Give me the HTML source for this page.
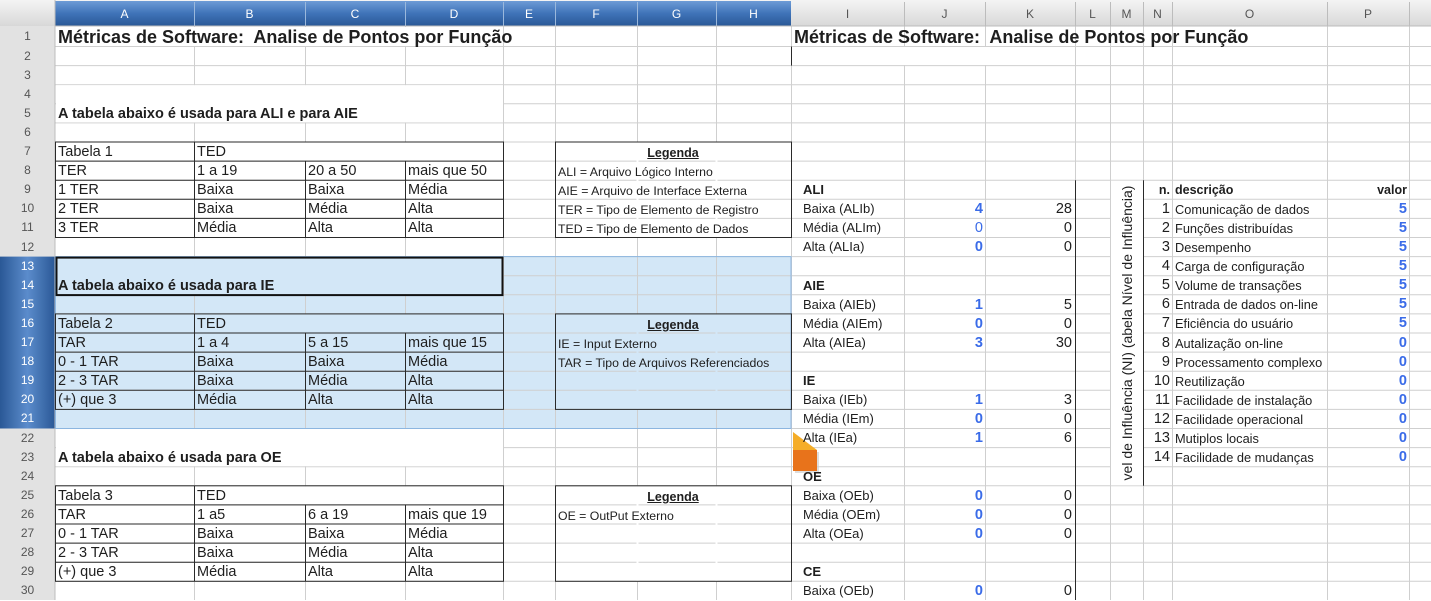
<!DOCTYPE html>
<html><head><meta charset="utf-8">
<style>
body{margin:0;width:1431px;height:600px;overflow:hidden;background:#fff;font-family:"Liberation Sans",sans-serif;position:relative;color:#1e1e1e}
svg{position:absolute;left:0;top:0}
.t{position:absolute;white-space:nowrap;font-size:14.5px;height:19px;line-height:20px}
.b{font-weight:bold}
.s{font-size:12.3px}
.o{font-size:12.8px}
.r{text-align:right}
.n{color:#3a6be8;font-weight:bold;text-align:right}
.h{position:absolute;font-size:12px;color:#555;text-align:center;height:26px;line-height:28px;top:0}
.hb{color:#fff}
.rh{position:absolute;left:0;width:55px;text-align:center;font-size:12px;color:#555}
.rb{color:#fff}
</style></head><body>
<svg width="1431" height="600">
<defs>
<linearGradient id="g1" x1="0" y1="0" x2="0" y2="1"><stop offset="0" stop-color="#f4f4f4"/><stop offset="1" stop-color="#d8d8d8"/></linearGradient>
<linearGradient id="g2" x1="0" y1="0" x2="0" y2="1"><stop offset="0" stop-color="#6d9bd6"/><stop offset="0.5" stop-color="#3f73b8"/><stop offset="1" stop-color="#2a5896"/></linearGradient>
<linearGradient id="g3" x1="0" y1="0" x2="1" y2="0"><stop offset="0" stop-color="#2a5896"/><stop offset="0.5" stop-color="#5b8ccc"/><stop offset="1" stop-color="#2a5896"/></linearGradient>
</defs>
<rect x="0" y="0" width="1431" height="26" fill="url(#g1)"/>
<rect x="55" y="1" width="736" height="25" fill="url(#g2)"/>
<rect x="0" y="26" width="55" height="574" fill="#e2e2e2"/>
<rect x="0" y="256.6" width="55" height="171.9" fill="url(#g3)"/>
<rect x="55" y="256.6" width="736" height="171.9" fill="#d3e7f7"/>
<g stroke="#cfcfcf" stroke-width="1">
<line x1="55" y1="46.5" x2="1431" y2="46.5"/><line x1="55" y1="65.6" x2="1431" y2="65.6"/><line x1="55" y1="84.7" x2="1431" y2="84.7"/><line x1="55" y1="103.8" x2="1431" y2="103.8"/><line x1="55" y1="122.9" x2="1431" y2="122.9"/><line x1="55" y1="142" x2="1431" y2="142"/><line x1="55" y1="161.1" x2="1431" y2="161.1"/><line x1="55" y1="180.2" x2="1431" y2="180.2"/><line x1="55" y1="199.3" x2="1431" y2="199.3"/><line x1="55" y1="218.4" x2="1431" y2="218.4"/><line x1="55" y1="237.5" x2="1431" y2="237.5"/><line x1="55" y1="256.6" x2="1431" y2="256.6"/><line x1="55" y1="275.7" x2="1431" y2="275.7"/><line x1="55" y1="294.8" x2="1431" y2="294.8"/><line x1="55" y1="313.9" x2="1431" y2="313.9"/><line x1="55" y1="333" x2="1431" y2="333"/><line x1="55" y1="352.1" x2="1431" y2="352.1"/><line x1="55" y1="371.2" x2="1431" y2="371.2"/><line x1="55" y1="390.3" x2="1431" y2="390.3"/><line x1="55" y1="409.4" x2="1431" y2="409.4"/><line x1="55" y1="428.5" x2="1431" y2="428.5"/><line x1="55" y1="447.6" x2="1431" y2="447.6"/><line x1="55" y1="466.7" x2="1431" y2="466.7"/><line x1="55" y1="485.8" x2="1431" y2="485.8"/><line x1="55" y1="504.9" x2="1431" y2="504.9"/><line x1="55" y1="524" x2="1431" y2="524"/><line x1="55" y1="543.1" x2="1431" y2="543.1"/><line x1="55" y1="562.2" x2="1431" y2="562.2"/><line x1="55" y1="581.3" x2="1431" y2="581.3"/>
<line x1="194.5" y1="26" x2="194.5" y2="600"/><line x1="305.5" y1="26" x2="305.5" y2="600"/><line x1="405.5" y1="26" x2="405.5" y2="600"/><line x1="503.5" y1="26" x2="503.5" y2="600"/><line x1="555.5" y1="26" x2="555.5" y2="600"/><line x1="637.5" y1="26" x2="637.5" y2="600"/><line x1="716.5" y1="26" x2="716.5" y2="600"/><line x1="791.5" y1="26" x2="791.5" y2="600"/><line x1="904.5" y1="26" x2="904.5" y2="600"/><line x1="985.5" y1="26" x2="985.5" y2="600"/><line x1="1075.5" y1="26" x2="1075.5" y2="600"/><line x1="1110.5" y1="26" x2="1110.5" y2="600"/><line x1="1143.5" y1="26" x2="1143.5" y2="600"/><line x1="1172.5" y1="26" x2="1172.5" y2="600"/><line x1="1327.5" y1="26" x2="1327.5" y2="600"/><line x1="1409.5" y1="26" x2="1409.5" y2="600"/>
</g>
<g stroke="#9ab8dc" stroke-width="1">
<line x1="194.5" y1="2" x2="194.5" y2="26"/><line x1="305.5" y1="2" x2="305.5" y2="26"/><line x1="405.5" y1="2" x2="405.5" y2="26"/><line x1="503.5" y1="2" x2="503.5" y2="26"/><line x1="555.5" y1="2" x2="555.5" y2="26"/><line x1="637.5" y1="2" x2="637.5" y2="26"/><line x1="716.5" y1="2" x2="716.5" y2="26"/>
</g>
<g stroke="#bcbcbc" stroke-width="1">
<line x1="55" y1="26" x2="1431" y2="26"/><line x1="55" y1="0" x2="55" y2="600"/>
<line x1="904.5" y1="2" x2="904.5" y2="26"/><line x1="985.5" y1="2" x2="985.5" y2="26"/><line x1="1075.5" y1="2" x2="1075.5" y2="26"/><line x1="1110.5" y1="2" x2="1110.5" y2="26"/><line x1="1143.5" y1="2" x2="1143.5" y2="26"/><line x1="1172.5" y1="2" x2="1172.5" y2="26"/><line x1="1327.5" y1="2" x2="1327.5" y2="26"/><line x1="1409.5" y1="2" x2="1409.5" y2="26"/>
</g>
<g fill="#fff">
<rect x="56" y="27" width="447" height="19"/>
<rect x="792" y="47" width="283" height="18"/>
<rect x="56" y="85.2" width="447" height="37.2"/>
<rect x="56" y="429" width="447" height="37.2"/>
<rect x="195" y="142.5" width="308" height="18"/>
<rect x="195" y="486.3" width="308" height="18"/>
<rect x="636.5" y="142.5" width="2" height="95"/><rect x="715.5" y="142.5" width="2" height="95"/>
<rect x="636.5" y="486.3" width="2" height="95"/><rect x="715.5" y="486.3" width="2" height="95"/>
<rect x="1111" y="180.7" width="32" height="304.6"/>
</g>
<g fill="#d3e7f7">
<rect x="56" y="257.1" width="447" height="37.2"/>
<rect x="195" y="314.4" width="308" height="18"/>
<rect x="636.5" y="314.4" width="2" height="95"/><rect x="715.5" y="314.4" width="2" height="95"/>
</g>
<rect x="55.5" y="256.6" width="735.5" height="171.9" fill="none" stroke="#8cb6e0" stroke-width="1"/>
<g stroke="#2a2a2a" stroke-width="1" fill="none">
<rect x="55.5" y="142" width="448" height="95.5"/>
<line x1="55" y1="161.1" x2="504" y2="161.1"/><line x1="55" y1="180.2" x2="504" y2="180.2"/><line x1="55" y1="199.3" x2="504" y2="199.3"/><line x1="55" y1="218.4" x2="504" y2="218.4"/>
<line x1="194.5" y1="142" x2="194.5" y2="237.5"/><line x1="305.5" y1="161.1" x2="305.5" y2="237.5"/><line x1="405.5" y1="161.1" x2="405.5" y2="237.5"/>
<rect x="55.5" y="313.9" width="448" height="95.5"/>
<line x1="55" y1="333" x2="504" y2="333"/><line x1="55" y1="352.1" x2="504" y2="352.1"/><line x1="55" y1="371.2" x2="504" y2="371.2"/><line x1="55" y1="390.3" x2="504" y2="390.3"/>
<line x1="194.5" y1="313.9" x2="194.5" y2="409.4"/><line x1="305.5" y1="333" x2="305.5" y2="409.4"/><line x1="405.5" y1="333" x2="405.5" y2="409.4"/>
<rect x="55.5" y="485.8" width="448" height="95.5"/>
<line x1="55" y1="504.9" x2="504" y2="504.9"/><line x1="55" y1="524" x2="504" y2="524"/><line x1="55" y1="543.1" x2="504" y2="543.1"/><line x1="55" y1="562.2" x2="504" y2="562.2"/>
<line x1="194.5" y1="485.8" x2="194.5" y2="581.3"/><line x1="305.5" y1="504.9" x2="305.5" y2="581.3"/><line x1="405.5" y1="504.9" x2="405.5" y2="581.3"/>
<rect x="555.5" y="142" width="236" height="95.5"/>
<rect x="555.5" y="313.9" width="236" height="95.5"/>
<rect x="555.5" y="485.8" width="236" height="95.5"/>
<line x1="791.5" y1="46.5" x2="791.5" y2="65.6"/>
<line x1="1075.5" y1="180.2" x2="1075.5" y2="600"/>
<line x1="1143.5" y1="180.2" x2="1143.5" y2="485.8"/>
</g>
<rect x="56.5" y="257.6" width="446" height="37.5" fill="none" stroke="#111" stroke-width="2"/>
<rect x="795" y="452" width="24" height="21" fill="#c8c8c8" opacity="0.6"/>
<polygon points="793,432 817,450 793,450" fill="#f5ad28"/>
<rect x="793" y="450" width="24" height="21" fill="#e8731b"/>
</svg>

<div class="h hb" style="left:55px;width:139px">A</div>
<div class="h hb" style="left:194px;width:111px">B</div>
<div class="h hb" style="left:305px;width:100px">C</div>
<div class="h hb" style="left:405px;width:98px">D</div>
<div class="h hb" style="left:503px;width:52px">E</div>
<div class="h hb" style="left:555px;width:82px">F</div>
<div class="h hb" style="left:637px;width:79px">G</div>
<div class="h hb" style="left:716px;width:75px">H</div>
<div class="h" style="left:791px;width:113px">I</div>
<div class="h" style="left:904px;width:81px">J</div>
<div class="h" style="left:985px;width:90px">K</div>
<div class="h" style="left:1075px;width:35px">L</div>
<div class="h" style="left:1110px;width:33px">M</div>
<div class="h" style="left:1143px;width:29px">N</div>
<div class="h" style="left:1172px;width:155px">O</div>
<div class="h" style="left:1327px;width:82px">P</div>

<div class="rh" style="top:26px;height:20px;line-height:20px">1</div>
<div class="rh" style="top:46.5px;height:19px;line-height:19px">2</div>
<div class="rh" style="top:65.6px;height:19px;line-height:19px">3</div>
<div class="rh" style="top:84.7px;height:19px;line-height:19px">4</div>
<div class="rh" style="top:103.8px;height:19px;line-height:19px">5</div>
<div class="rh" style="top:122.9px;height:19px;line-height:19px">6</div>
<div class="rh" style="top:142px;height:19px;line-height:19px">7</div>
<div class="rh" style="top:161.1px;height:19px;line-height:19px">8</div>
<div class="rh" style="top:180.2px;height:19px;line-height:19px">9</div>
<div class="rh" style="top:199.3px;height:19px;line-height:19px">10</div>
<div class="rh" style="top:218.4px;height:19px;line-height:19px">11</div>
<div class="rh" style="top:237.5px;height:19px;line-height:19px">12</div>
<div class="rh rb" style="top:256.6px;height:19px;line-height:19px">13</div>
<div class="rh rb" style="top:275.7px;height:19px;line-height:19px">14</div>
<div class="rh rb" style="top:294.8px;height:19px;line-height:19px">15</div>
<div class="rh rb" style="top:313.9px;height:19px;line-height:19px">16</div>
<div class="rh rb" style="top:333px;height:19px;line-height:19px">17</div>
<div class="rh rb" style="top:352.1px;height:19px;line-height:19px">18</div>
<div class="rh rb" style="top:371.2px;height:19px;line-height:19px">19</div>
<div class="rh rb" style="top:390.3px;height:19px;line-height:19px">20</div>
<div class="rh rb" style="top:409.4px;height:19px;line-height:19px">21</div>
<div class="rh" style="top:428.5px;height:19px;line-height:19px">22</div>
<div class="rh" style="top:447.6px;height:19px;line-height:19px">23</div>
<div class="rh" style="top:466.7px;height:19px;line-height:19px">24</div>
<div class="rh" style="top:485.8px;height:19px;line-height:19px">25</div>
<div class="rh" style="top:504.9px;height:19px;line-height:19px">26</div>
<div class="rh" style="top:524px;height:19px;line-height:19px">27</div>
<div class="rh" style="top:543.1px;height:19px;line-height:19px">28</div>
<div class="rh" style="top:562.2px;height:19px;line-height:19px">29</div>
<div class="rh" style="top:581.3px;height:19px;line-height:19px">30</div>

<div class="t b" style="left:58px;top:26px;height:20px;line-height:22px;font-size:18px">Métricas de Software:&nbsp; Analise de Pontos por Função</div>
<div class="t b" style="left:794px;top:26px;height:20px;line-height:22px;font-size:18px">Métricas de Software:&nbsp; Analise de Pontos por Função</div>
<div class="t b" style="left:58px;top:104px;font-size:14.5px">A tabela abaixo é usada para ALI e para AIE</div>
<div class="t b" style="left:58px;top:276px;font-size:14.5px">A tabela abaixo é usada para IE</div>
<div class="t b" style="left:58px;top:448px;font-size:14.5px">A tabela abaixo é usada para OE</div>

<div class="t" style="left:58px;top:142px">Tabela 1</div><div class="t" style="left:197px;top:142px">TED</div>
<div class="t" style="left:58px;top:161px">TER</div><div class="t" style="left:197px;top:161px">1 a 19</div><div class="t" style="left:308px;top:161px">20 a 50</div><div class="t" style="left:408px;top:161px">mais que 50</div>
<div class="t" style="left:58px;top:180px">1 TER</div><div class="t" style="left:197px;top:180px">Baixa</div><div class="t" style="left:308px;top:180px">Baixa</div><div class="t" style="left:408px;top:180px">Média</div>
<div class="t" style="left:58px;top:199px">2 TER</div><div class="t" style="left:197px;top:199px">Baixa</div><div class="t" style="left:308px;top:199px">Média</div><div class="t" style="left:408px;top:199px">Alta</div>
<div class="t" style="left:58px;top:218px">3 TER</div><div class="t" style="left:197px;top:218px">Média</div><div class="t" style="left:308px;top:218px">Alta</div><div class="t" style="left:408px;top:218px">Alta</div>

<div class="t" style="left:58px;top:314px">Tabela 2</div><div class="t" style="left:197px;top:314px">TED</div>
<div class="t" style="left:58px;top:333px">TAR</div><div class="t" style="left:197px;top:333px">1 a 4</div><div class="t" style="left:308px;top:333px">5 a 15</div><div class="t" style="left:408px;top:333px">mais que 15</div>
<div class="t" style="left:58px;top:352px">0 - 1 TAR</div><div class="t" style="left:197px;top:352px">Baixa</div><div class="t" style="left:308px;top:352px">Baixa</div><div class="t" style="left:408px;top:352px">Média</div>
<div class="t" style="left:58px;top:371px">2 - 3 TAR</div><div class="t" style="left:197px;top:371px">Baixa</div><div class="t" style="left:308px;top:371px">Média</div><div class="t" style="left:408px;top:371px">Alta</div>
<div class="t" style="left:58px;top:390px">(+) que 3</div><div class="t" style="left:197px;top:390px">Média</div><div class="t" style="left:308px;top:390px">Alta</div><div class="t" style="left:408px;top:390px">Alta</div>

<div class="t" style="left:58px;top:486px">Tabela 3</div><div class="t" style="left:197px;top:486px">TED</div>
<div class="t" style="left:58px;top:505px">TAR</div><div class="t" style="left:197px;top:505px">1 a5</div><div class="t" style="left:308px;top:505px">6 a 19</div><div class="t" style="left:408px;top:505px">mais que 19</div>
<div class="t" style="left:58px;top:524px">0 - 1 TAR</div><div class="t" style="left:197px;top:524px">Baixa</div><div class="t" style="left:308px;top:524px">Baixa</div><div class="t" style="left:408px;top:524px">Média</div>
<div class="t" style="left:58px;top:543px">2 - 3 TAR</div><div class="t" style="left:197px;top:543px">Baixa</div><div class="t" style="left:308px;top:543px">Média</div><div class="t" style="left:408px;top:543px">Alta</div>
<div class="t" style="left:58px;top:562px">(+) que 3</div><div class="t" style="left:197px;top:562px">Média</div><div class="t" style="left:308px;top:562px">Alta</div><div class="t" style="left:408px;top:562px">Alta</div>

<div class="t b" style="left:555px;width:236px;text-align:center;top:143px;font-size:12.5px;text-decoration:underline">Legenda</div>
<div class="t s" style="left:558px;top:162px">ALI = Arquivo Lógico Interno</div>
<div class="t s" style="left:558px;top:181px">AIE = Arquivo de Interface Externa</div>
<div class="t s" style="left:558px;top:200px">TER = Tipo de Elemento de Registro</div>
<div class="t s" style="left:558px;top:219px">TED = Tipo de Elemento de Dados</div>
<div class="t b" style="left:555px;width:236px;text-align:center;top:315px;font-size:12.5px;text-decoration:underline">Legenda</div>
<div class="t s" style="left:558px;top:334px">IE = Input Externo</div>
<div class="t s" style="left:558px;top:353px">TAR = Tipo de Arquivos Referenciados</div>
<div class="t b" style="left:555px;width:236px;text-align:center;top:487px;font-size:12.5px;text-decoration:underline">Legenda</div>
<div class="t s" style="left:558px;top:506px">OE = OutPut Externo</div>

<div class="t b" style="left:803px;top:180px;font-size:13px">ALI</div>
<div class="t" style="left:803px;top:199px;font-size:13px">Baixa (ALIb)</div><div class="t n" style="left:904px;width:79px;top:199px">4</div><div class="t r" style="left:985px;width:87px;top:199px">28</div>
<div class="t" style="left:803px;top:218px;font-size:13px">Média (ALIm)</div><div class="t n" style="left:904px;width:79px;top:218px;font-weight:normal">0</div><div class="t r" style="left:985px;width:87px;top:218px">0</div>
<div class="t" style="left:803px;top:237px;font-size:13px">Alta (ALIa)</div><div class="t n" style="left:904px;width:79px;top:237px">0</div><div class="t r" style="left:985px;width:87px;top:237px">0</div>
<div class="t b" style="left:803px;top:276px;font-size:13px">AIE</div>
<div class="t" style="left:803px;top:295px;font-size:13px">Baixa (AIEb)</div><div class="t n" style="left:904px;width:79px;top:295px">1</div><div class="t r" style="left:985px;width:87px;top:295px">5</div>
<div class="t" style="left:803px;top:314px;font-size:13px">Média (AIEm)</div><div class="t n" style="left:904px;width:79px;top:314px">0</div><div class="t r" style="left:985px;width:87px;top:314px">0</div>
<div class="t" style="left:803px;top:333px;font-size:13px">Alta (AIEa)</div><div class="t n" style="left:904px;width:79px;top:333px">3</div><div class="t r" style="left:985px;width:87px;top:333px">30</div>
<div class="t b" style="left:803px;top:371px;font-size:13px">IE</div>
<div class="t" style="left:803px;top:390px;font-size:13px">Baixa (IEb)</div><div class="t n" style="left:904px;width:79px;top:390px">1</div><div class="t r" style="left:985px;width:87px;top:390px">3</div>
<div class="t" style="left:803px;top:409px;font-size:13px">Média (IEm)</div><div class="t n" style="left:904px;width:79px;top:409px">0</div><div class="t r" style="left:985px;width:87px;top:409px">0</div>
<div class="t" style="left:803px;top:428px;font-size:13px">Alta (IEa)</div><div class="t n" style="left:904px;width:79px;top:428px">1</div><div class="t r" style="left:985px;width:87px;top:428px">6</div>
<div class="t b" style="left:803px;top:467px;font-size:13px">OE</div>
<div class="t" style="left:803px;top:486px;font-size:13px">Baixa (OEb)</div><div class="t n" style="left:904px;width:79px;top:486px">0</div><div class="t r" style="left:985px;width:87px;top:486px">0</div>
<div class="t" style="left:803px;top:505px;font-size:13px">Média (OEm)</div><div class="t n" style="left:904px;width:79px;top:505px">0</div><div class="t r" style="left:985px;width:87px;top:505px">0</div>
<div class="t" style="left:803px;top:524px;font-size:13px">Alta (OEa)</div><div class="t n" style="left:904px;width:79px;top:524px">0</div><div class="t r" style="left:985px;width:87px;top:524px">0</div>
<div class="t b" style="left:803px;top:562px;font-size:13px">CE</div>
<div class="t" style="left:803px;top:581px;font-size:13px">Baixa (OEb)</div><div class="t n" style="left:904px;width:79px;top:581px">0</div><div class="t r" style="left:985px;width:87px;top:581px">0</div>

<div class="t" style="left:974px;top:317px;width:306px;height:32px;line-height:32px;font-size:14px;text-align:center;transform:rotate(-90deg)">vel de Influência (NI) (abela Nível de Influência)</div>

<div class="t b r" style="left:1143px;width:27px;top:180px;font-size:12.5px">n.</div><div class="t b" style="left:1175px;top:180px;font-size:12.5px">descrição</div><div class="t b r" style="left:1327px;width:80px;top:180px;font-size:12.5px">valor</div>
<div class="t r" style="left:1143px;width:27px;top:199px">1</div><div class="t o" style="left:1175px;top:200px">Comunicação de dados</div><div class="t n" style="left:1327px;width:80px;top:199px">5</div>
<div class="t r" style="left:1143px;width:27px;top:218px">2</div><div class="t o" style="left:1175px;top:219px">Funções distribuídas</div><div class="t n" style="left:1327px;width:80px;top:218px">5</div>
<div class="t r" style="left:1143px;width:27px;top:237px">3</div><div class="t o" style="left:1175px;top:238px">Desempenho</div><div class="t n" style="left:1327px;width:80px;top:237px">5</div>
<div class="t r" style="left:1143px;width:27px;top:256px">4</div><div class="t o" style="left:1175px;top:257px">Carga de configuração</div><div class="t n" style="left:1327px;width:80px;top:256px">5</div>
<div class="t r" style="left:1143px;width:27px;top:275px">5</div><div class="t o" style="left:1175px;top:276px">Volume de transações</div><div class="t n" style="left:1327px;width:80px;top:275px">5</div>
<div class="t r" style="left:1143px;width:27px;top:294px">6</div><div class="t o" style="left:1175px;top:295px">Entrada de dados on-line</div><div class="t n" style="left:1327px;width:80px;top:294px">5</div>
<div class="t r" style="left:1143px;width:27px;top:313px">7</div><div class="t o" style="left:1175px;top:314px">Eficiência do usuário</div><div class="t n" style="left:1327px;width:80px;top:313px">5</div>
<div class="t r" style="left:1143px;width:27px;top:333px">8</div><div class="t o" style="left:1175px;top:334px">Autalização on-line</div><div class="t n" style="left:1327px;width:80px;top:333px">0</div>
<div class="t r" style="left:1143px;width:27px;top:352px">9</div><div class="t o" style="left:1175px;top:353px">Processamento complexo</div><div class="t n" style="left:1327px;width:80px;top:352px">0</div>
<div class="t r" style="left:1143px;width:27px;top:371px">10</div><div class="t o" style="left:1175px;top:372px">Reutilização</div><div class="t n" style="left:1327px;width:80px;top:371px">0</div>
<div class="t r" style="left:1143px;width:27px;top:390px">11</div><div class="t o" style="left:1175px;top:391px">Facilidade de instalação</div><div class="t n" style="left:1327px;width:80px;top:390px">0</div>
<div class="t r" style="left:1143px;width:27px;top:409px">12</div><div class="t o" style="left:1175px;top:410px">Facilidade operacional</div><div class="t n" style="left:1327px;width:80px;top:409px">0</div>
<div class="t r" style="left:1143px;width:27px;top:428px">13</div><div class="t o" style="left:1175px;top:429px">Mutiplos locais</div><div class="t n" style="left:1327px;width:80px;top:428px">0</div>
<div class="t r" style="left:1143px;width:27px;top:447px">14</div><div class="t o" style="left:1175px;top:448px">Facilidade de mudanças</div><div class="t n" style="left:1327px;width:80px;top:447px">0</div>
</body></html>
